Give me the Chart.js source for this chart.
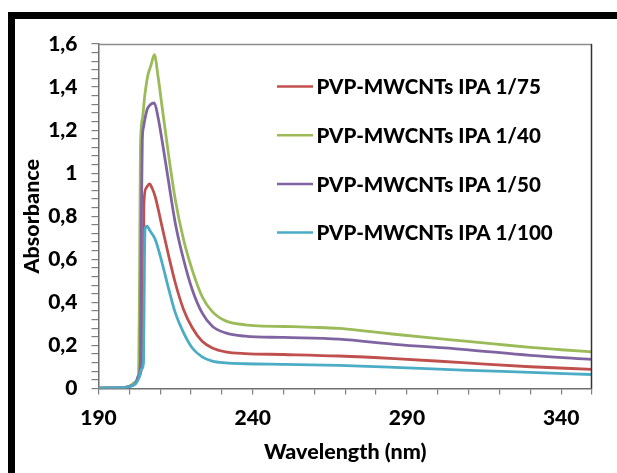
<!DOCTYPE html>
<html>
<head>
<meta charset="utf-8">
<script src="https://cdn.jsdelivr.net/npm/chart.js@4/dist/chart.umd.min.js"></script>
<style>
  html, body { margin: 0; padding: 0; background: #fff; }
  #wrap { position: relative; width: 617px; height: 473px; overflow: hidden; }
  #frame { position: absolute; left: 8px; top: 12px; width: 620px; height: 470px;
           border-top: 7px solid #000; border-left: 7px solid #000; pointer-events: none; }
  canvas { position: absolute; left: 0; top: 0; }
</style>
</head>
<body>
<div id="wrap">
  <canvas id="c" width="617" height="473"></canvas>
  <div id="frame"></div>
</div>
<script>
// ---- data ----
const seriesLabels = ['PVP-MWCNTs IPA 1/75', 'PVP-MWCNTs IPA 1/40', 'PVP-MWCNTs IPA 1/50', 'PVP-MWCNTs IPA 1/100'];
const seriesColors = ['#C0504D', '#9BBB59', '#8064A2', '#4BACC6'];

const wlRed = [190, 198, 200, 202, 203, 204, 204.5, 204.7, 205.4, 206.5, 207.4, 208.4, 210.6, 212.8, 214.9, 217.6, 220.4, 223.6, 226.9, 231.2, 237.5, 250, 268, 286, 308, 330, 350];
const absRed = [0.002, 0.004, 0.008, 0.025, 0.05, 0.1, 0.3, 0.85, 0.93, 0.95, 0.93, 0.89, 0.752, 0.613, 0.49, 0.366, 0.282, 0.219, 0.188, 0.17, 0.162, 0.158, 0.151, 0.139, 0.12, 0.101, 0.089];

const wlGreen = [190, 198, 200, 202, 203, 203.3, 203.6, 204.3, 205, 206, 207, 208.1, 209.3, 210.6, 212.8, 214.9, 217.6, 220.4, 223.6, 226.9, 231.2, 237.5, 242, 250, 260, 268, 276, 286, 297, 308, 319, 330, 340, 350];
const absGreen = [0.002, 0.004, 0.01, 0.03, 0.07, 0.5, 1.12, 1.26, 1.36, 1.455, 1.5, 1.551, 1.45, 1.31, 1.077, 0.877, 0.69, 0.55, 0.427, 0.357, 0.314, 0.296, 0.291, 0.288, 0.284, 0.279, 0.268, 0.252, 0.236, 0.221, 0.206, 0.191, 0.18, 0.17];

const wlPurple = [190, 198, 200, 202, 203, 203.6, 203.9, 204.2, 204.6, 205.7, 206.8, 208.1, 209.3, 210.6, 212.8, 214.9, 217.6, 220.4, 223.6, 226.9, 231.2, 237.5, 250, 268, 286, 308, 330, 350];
const absPurple = [0.002, 0.004, 0.01, 0.025, 0.06, 0.12, 0.8, 1.15, 1.215, 1.293, 1.318, 1.326, 1.26, 1.153, 0.953, 0.768, 0.598, 0.459, 0.351, 0.289, 0.258, 0.243, 0.237, 0.229, 0.205, 0.182, 0.154, 0.135];

const wlBlue = [190, 198, 200, 202, 203, 204, 204.6, 204.9, 205.1, 205.7, 206.8, 208.4, 210.6, 212.8, 214.9, 217.6, 220.4, 223.6, 226.9, 231.2, 237.5, 250, 268, 286, 308, 330, 350];
const absBlue = [0.002, 0.004, 0.008, 0.022, 0.045, 0.09, 0.12, 0.6, 0.74, 0.754, 0.73, 0.692, 0.584, 0.46, 0.351, 0.258, 0.188, 0.147, 0.127, 0.119, 0.115, 0.112, 0.107, 0.098, 0.085, 0.075, 0.065];

const xTickLabels = [190, 240, 290, 340];
const yTickLabels = [0, 0.2, 0.4, 0.6, 0.8, 1, 1.2, 1.4, 1.6];

// ---- build ----
const wls = [wlRed, wlGreen, wlPurple, wlBlue];
const abss = [absRed, absGreen, absPurple, absBlue];
const drawOrder = [3, 2, 1, 0]; // later series drawn on top (like Excel)

const datasets = seriesLabels.map((lab, i) => ({
  label: lab,
  data: wls[i].map((x, k) => ({ x: x, y: abss[i][k] })),
  borderColor: seriesColors[i],
  backgroundColor: seriesColors[i],
  borderWidth: 2.8,
  pointRadius: 0,
  showLine: true,
  fill: false,
  cubicInterpolationMode: 'monotone',
  order: drawOrder[i]
}));

const FONT = 'Lato, "Open Sans", "DejaVu Sans", sans-serif';

const legendPlugin = {
  id: 'insideLegend',
  afterDraw(chart) {
    const ctx = chart.ctx;
    ctx.save();
    chart.data.datasets.forEach((ds, i) => {
      const y = 86.5 + i * 48.7;
      ctx.strokeStyle = ds.borderColor;
      ctx.lineWidth = 2.5;
      ctx.beginPath();
      ctx.moveTo(277, y);
      ctx.lineTo(313, y);
      ctx.stroke();
      ctx.fillStyle = '#000';
      ctx.font = '900 20.5px ' + FONT;
      ctx.textBaseline = 'middle';
      ctx.textAlign = 'left';
      ctx.fillText(ds.label, 316.5, y + 1);
    });
    ctx.restore();
  }
};

const borderPlugin = {
  id: 'plotBorder',
  afterDatasetsDraw(chart) {
    const a = chart.chartArea, ctx = chart.ctx;
    ctx.save();
    ctx.lineWidth = 1.5;
    ctx.strokeStyle = '#8c8c8c';
    ctx.beginPath(); ctx.moveTo(a.left, a.top + 0.5); ctx.lineTo(a.right, a.top + 0.5); ctx.stroke();
    ctx.strokeStyle = '#333';
    ctx.beginPath(); ctx.moveTo(a.right - 0.5, a.top); ctx.lineTo(a.right - 0.5, a.bottom); ctx.stroke();
    ctx.restore();
  }
};

new Chart(document.getElementById('c'), {
  type: 'scatter',
  data: { datasets: datasets },
  options: {
    responsive: false,
    animation: false,
    devicePixelRatio: 1,
    layout: { padding: { left: 0, top: 44, right: 25, bottom: 0 } },
    plugins: { legend: { display: false }, tooltip: { enabled: false } },
    scales: {
      x: {
        type: 'linear', min: 190, max: 350,
        afterFit(s) { s.height = 84.5; },
        ticks: {
          stepSize: 10, autoSkip: false, maxRotation: 0, padding: 11,
          maxTicksLimit: 100,
          color: '#000', font: { family: FONT, size: 21, weight: '900' },
          callback: (v) => xTickLabels.includes(Math.round(v)) ? String(Math.round(v)) : ''
        },
        grid: { drawOnChartArea: false, drawTicks: true, tickLength: 6, color: '#7f7f7f', lineWidth: 1.2 },
        border: { color: '#6f6f6f', width: 1.5 },
        title: { display: true, text: 'Wavelength (nm)', color: '#000',
                 font: { family: FONT, size: 21.5, weight: '900' }, padding: { top: 0, bottom: 8 } }
      },
      y: {
        type: 'linear', min: 0, max: 1.6,
        afterFit(s) { s.width = 98.5; },
        ticks: {
          stepSize: 0.04, autoSkip: false, padding: 14, maxTicksLimit: 100,
          color: '#000', font: { family: FONT, size: 21, weight: '900' },
          callback: (v) => {
            const r = Math.round(v * 100);
            const hit = yTickLabels.find(t => Math.round(t * 100) === r);
            return hit !== undefined ? String(hit).replace('.', ',') : '';
          }
        },
        grid: { drawOnChartArea: false, drawTicks: true, tickLength: 7, color: '#7f7f7f', lineWidth: 1.2 },
        border: { color: '#6f6f6f', width: 1.5 },
        title: { display: true, text: 'Absorbance', color: '#000',
                 font: { family: FONT, size: 21.5, weight: '900' }, padding: { top: 19, bottom: 0 } }
      }
    }
  },
  plugins: [legendPlugin, borderPlugin]
});
</script>
</body>
</html>
